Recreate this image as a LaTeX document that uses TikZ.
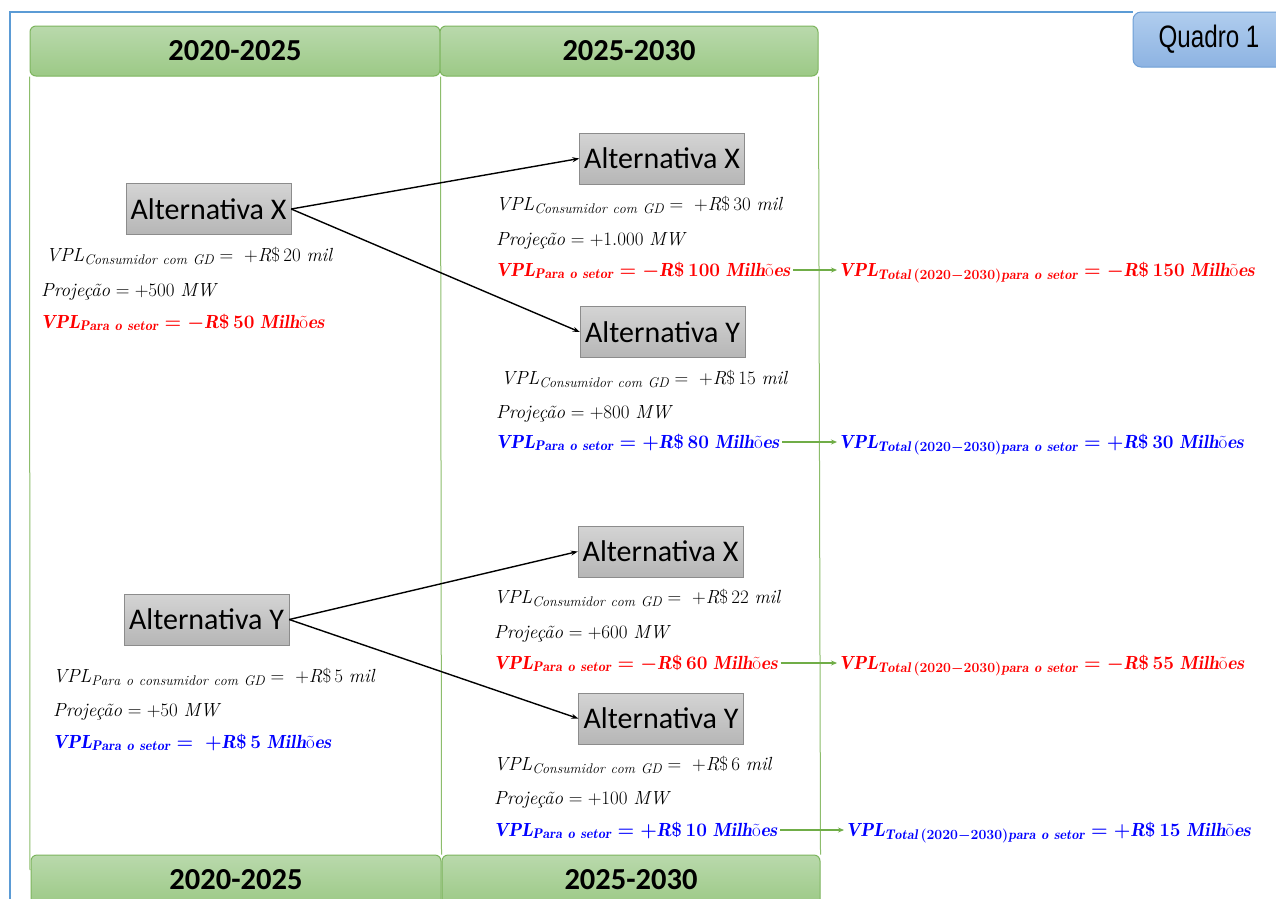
\RequirePackage{fix-cm}
\documentclass[tikz,border=0pt]{standalone}
\usepackage{amsmath}
\usepackage{fontspec}
\newfontfamily\calibri{Carlito}
\newfontfamily\arialn[FakeStretch=0.78]{Liberation Sans}
\usetikzlibrary{arrows.meta}
\DeclareMathSizes{19}{19}{14}{10}
\definecolor{hdrtop}{HTML}{B9D9AC}
\definecolor{hdrbot}{HTML}{9CC986}
\definecolor{hdrline}{HTML}{7DB55E}
\definecolor{qtop}{HTML}{B0CDEE}
\definecolor{qbot}{HTML}{8DB3E2}
\definecolor{qline}{HTML}{6E9FD6}
\definecolor{framec}{HTML}{5B9BD5}
\definecolor{grtop}{HTML}{D4D4D4}
\definecolor{grbot}{HTML}{B6B6B6}
\definecolor{grline}{HTML}{8C8C8C}
\definecolor{vred}{HTML}{FF0000}
\definecolor{vblue}{HTML}{0000FF}
\definecolor{garr}{HTML}{70AD47}
\newcommand{\VPLc}[2]{$\mathit{VPL}_{\mathit{#1}} =\ +\mathit{R}\$\,#2\ \mathit{mil}$}
\newcommand{\Proj}[1]{\textit{Projeção} $= +#1\ \mathit{MW}$}
\newcommand{\VPLs}[2]{{\boldmath$\mathit{VPL}_{\mathit{Para\ o\ setor}} = #1\mathit{R}\$\,#2\ \mathit{Milh}\text{õ}\mathit{es}$}}
\newcommand{\VPLt}[2]{{\boldmath$\mathit{VPL}_{\mathit{Total}\,(2020-2030)\mathit{para\ o\ setor}} = #1\mathit{R}\$\,#2\ \mathit{Milh}\text{õ}\mathit{es}$}}
\tikzset{
  hdr/.style={draw=hdrline, top color=hdrtop, bottom color=hdrbot, rounded corners=6pt, line width=1pt,
    font=\calibri\bfseries\fontsize{30.5}{33}\selectfont, minimum height=50pt, inner sep=0pt, text=black},
  alt/.style={draw=grline, top color=grtop, bottom color=grbot, minimum width=165pt, minimum height=51pt,
    font=\calibri\fontsize{30}{32}\selectfont, inner sep=0pt},
  txt/.style={anchor=base west, inner sep=1pt, font=\fontsize{19}{22}\selectfont},
  redt/.style={txt, text=vred},
  bluet/.style={txt, text=vblue},
  colline/.style={draw=garr!80, line width=1pt},
  barrow/.style={-{Stealth[length=7pt,width=5pt]}, line width=1.4pt},
  garrow/.style={-{Stealth[length=6pt,width=5pt]}, draw=garr, line width=1.3pt},
}
\begin{document}
\begin{tikzpicture}[x=1pt,y=-1pt]
\useasboundingbox (0,0) rectangle (1276,898);
\clip (0,0) rectangle (1276,898);
\fill[white] (0,0) rectangle (1276,898);
% quadro
\node[draw=qline, top color=qtop, bottom color=qbot, rounded corners=8pt, line width=1pt,
  minimum width=160pt, minimum height=55pt, inner sep=0pt, font=\arialn\fontsize{31}{33}\selectfont]
  (q) at (1213,39.5) {\hspace*{-8pt}\raisebox{-2pt}{Quadro 1}};
\coordinate (fc) at (10,12);
\coordinate (fb) at (10,900);
\draw[framec, line width=2.5pt] (fb) -- (fc) -- (q.west |- fc);
% headers
\node[hdr, minimum width=410pt] (h1) at (235,51) {2020-2025};
\node[hdr, minimum width=378pt] (h2) at (629,51) {2025-2030};
\node[hdr, minimum width=410pt] (h3) at (236,880) {2020-2025};
\node[hdr, minimum width=378pt] (h4) at (631,880) {2025-2030};
\coordinate (c1b) at (30,870);
\draw[colline] (h1.south west) -- (c1b);
\draw[colline] (h1.south east) -- (h4.north west);
\draw[colline] (h2.south east) -- (h4.north east);
% alternatives
\node[alt] (ax) at (208.5,209) {Alternativa X};
\node[alt] (ay) at (206.5,619.5) {Alternativa Y};
\node[alt] (bx1) at (662,158.5) {Alternativa X};
\node[alt] (by1) at (662.5,332) {Alternativa Y};
\node[alt] (bx2) at (660.5,551.5) {Alternativa X};
\node[alt] (by2) at (661,718.5) {Alternativa Y};
\draw[barrow] (ax.east) -- (bx1.west);
\draw[barrow] (ax.east) -- (by1.west);
\draw[barrow] (ay.east) -- (bx2.west);
\draw[barrow] (ay.east) -- (by2.west);
% left texts
\node[txt] (l1) at (45,261) {\VPLc{Consumidor\ com\ GD}{20}};
\node[txt] (l2) at (40,296) {\Proj{500}};
\node[redt] (l3) at (40,328) {\VPLs{-}{50}};
\node[txt] (l4) at (52,682) {\VPLc{Para\ o\ consumidor\ com\ GD}{5}};
\node[txt] (l5) at (52,716) {\Proj{50}};
\node[bluet] (l6) at (52,748) {\VPLs{\ +}{5}};
% right texts
\node[txt] (r1) at (495,210) {\VPLc{Consumidor\ com\ GD}{30}};
\node[txt] (r2) at (495,245) {\Proj{1.000}};
\node[redt] (r3) at (495,276) {\VPLs{-}{100}};
\node[txt] (r4) at (500,384) {\VPLc{Consumidor\ com\ GD}{15}};
\node[txt] (r5) at (495,418) {\Proj{800}};
\node[bluet] (r6) at (495,448) {\VPLs{+}{80}};
\node[txt] (r7) at (493,603) {\VPLc{Consumidor\ com\ GD}{22}};
\node[txt] (r8) at (493,638) {\Proj{600}};
\node[redt] (r9) at (493,669) {\VPLs{-}{60}};
\node[txt] (r10) at (493,770) {\VPLc{Consumidor\ com\ GD}{6}};
\node[txt] (r11) at (493,804) {\Proj{100}};
\node[bluet] (r12) at (493,836) {\VPLs{+}{10}};
% totals
\node[redt] (t1) at (838,276) {\VPLt{-}{150}};
\node[bluet] (t2) at (838,448) {\VPLt{+}{30}};
\node[redt] (t3) at (838,669) {\VPLt{-}{55}};
\node[bluet] (t4) at (845,836) {\VPLt{+}{15}};
\draw[garrow] ([shift={(2pt,6pt)}]r3.base east) -- ([shift={(-1pt,6pt)}]t1.base west);
\draw[garrow] ([shift={(2pt,6pt)}]r6.base east) -- ([shift={(-1pt,6pt)}]t2.base west);
\draw[garrow] ([shift={(2pt,6pt)}]r9.base east) -- ([shift={(-1pt,6pt)}]t3.base west);
\draw[garrow] ([shift={(2pt,6pt)}]r12.base east) -- ([shift={(-1pt,6pt)}]t4.base west);
\end{tikzpicture}
\end{document}
